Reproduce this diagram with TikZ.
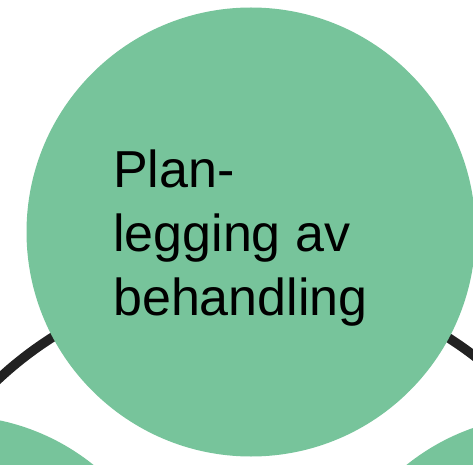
\documentclass[tikz,border=0pt]{standalone}
\usepackage{fontspec}
\setmainfont{Liberation Sans}
\definecolor{nodegreen}{RGB}{119,196,155}
\definecolor{ringdark}{RGB}{34,34,34}
\begin{document}
\begin{tikzpicture}[x=1pt,y=1pt,
  cyclenode/.style={circle,fill=nodegreen,draw=none,minimum size=449pt,inner sep=0pt},
  ringline/.style={draw=ringdark,line width=9.5pt},
  nodetext/.style={align=left,font=\fontsize{52}{64}\selectfont,inner sep=0pt,anchor=base west}]
\useasboundingbox (0,0) rectangle (473,464);
\clip (0,0) rectangle (473,464);
\coordinate (ringc) at (250,-185);
\draw[ringline] (ringc) circle[radius=369];
\node[cyclenode] (n1) at (251,232) {};
\node[cyclenode] (n2) at (-47,-176) {};
\node[cyclenode] (n3) at (547,-176) {};
\node[nodetext] (t1) at (113,148.3) {Plan-\\legging av\\behandling};
\end{tikzpicture}
\end{document}
